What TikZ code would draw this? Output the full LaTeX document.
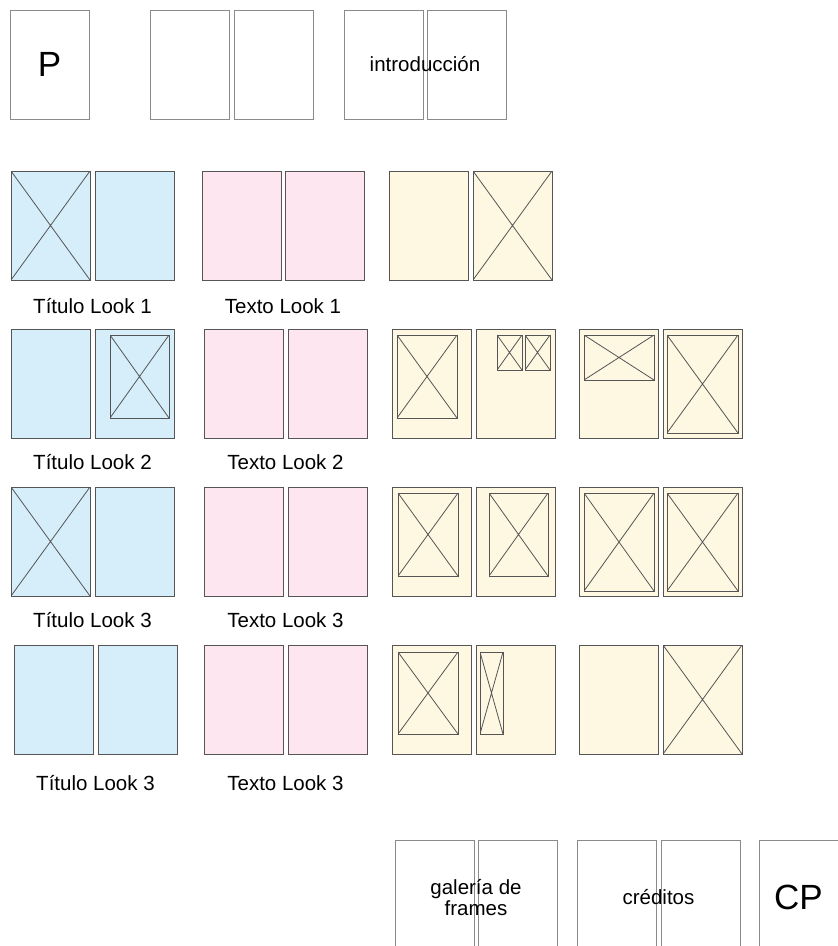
\documentclass[tikz,border=0pt]{standalone}
\usepackage{fontspec}
\setmainfont{Liberation Sans}
\definecolor{titblau}{HTML}{D5EEFA}
\definecolor{txtrosa}{HTML}{FDE6F0}
\definecolor{imggelb}{HTML}{FEF8E2}
\definecolor{randgrau}{HTML}{8A8A8A}
\definecolor{linie}{HTML}{555555}
\usetikzlibrary{positioning, calc}

\begin{document}
\begin{tikzpicture}[
    x=1pt, y=-1pt,
    node distance=5pt,
    page/.style={rectangle, draw=randgrau, line width=0.9pt,
                 minimum width=79pt, minimum height=109pt,
                 inner sep=0pt, outer sep=0pt, anchor=north west},
    tit/.style={page, draw=linie, fill=titblau},
    txt/.style={page, draw=linie, fill=txtrosa},
    img/.style={page, draw=linie, fill=imggelb},
    cross/.style={path picture={
        \draw[linie, line width=0.8pt]
          (path picture bounding box.north west) -- (path picture bounding box.south east)
          (path picture bounding box.south west) -- (path picture bounding box.north east);}},
    frame/.style={rectangle, draw=linie, line width=1pt,
                  inner sep=0pt, outer sep=0pt, cross},
    lbl/.style={font=\fontsize{20.5}{22}\selectfont},
    big/.style={font=\fontsize{35}{38}\selectfont}
  ]
  \useasboundingbox (0,0) rectangle (838,946);

  % Vorspann
  \node[page] (p)  at (10,10) {};
  \node[page] (v1) at (150,10) {};
  \node[page, right=of v1] (v2) {};
  \node[page] (i1) at (344,10) {};
  \node[page, right=4pt of i1] (i2) {};
  \node[big] at (p.center) {P};
  \node[lbl] at ($(i1.east)!.5!(i2.west)$) {introducción};

  % Look 1
  \node[tit, cross] (t1a) at (11,171) {};
  \node[tit, right=of t1a] (t1b) {};
  \node[txt] (x1a) at (202,171) {};
  \node[txt, right=4pt of x1a] (x1b) {};
  \node[img] (b1a) at (389,171) {};
  \node[img, cross, right=of b1a] (b1b) {};
  \node[lbl] (l1t) at ($(t1a.south east)!.5!(t1b.south west)+(0,26)$) {Título Look 1};
  \node[lbl] (l1x) at ($(x1a.south east)!.5!(x1b.south west)+(0,26)$) {Texto Look 1};

  % Look 2
  \node[tit] (t2a) at (11,329) {};
  \node[tit, right=of t2a] (t2b) {};
  \node[frame, minimum width=59pt, minimum height=83pt, anchor=north east]
    (f2t) at ([shift={(-5,6)}]t2b.north east) {};
  \node[txt] (x2a) at (204,329) {};
  \node[txt, right=of x2a] (x2b) {};
  \node[img] (b2a) at (392,329) {};
  \node[img, right=of b2a] (b2b) {};
  \node[img] (b2c) at (579,329) {};
  \node[img, right=of b2c] (b2d) {};
  \node[frame, minimum width=60pt, minimum height=83pt, anchor=north west]
    (f2a) at ([shift={(5,6)}]b2a.north west) {};
  \node[frame, minimum width=25pt, minimum height=35pt, anchor=north east]
    (f2b2) at ([shift={(-5,6)}]b2b.north east) {};
  \node[frame, minimum width=25pt, minimum height=35pt, anchor=north east,
    left=3pt of f2b2] (f2b1) {};
  \node[frame, minimum width=70pt, minimum height=45pt, anchor=north west]
    (f2c) at ([shift={(5,6)}]b2c.north west) {};
  \node[frame, minimum width=71pt, minimum height=98pt, anchor=north west]
    (f2d) at ([shift={(4,6)}]b2d.north west) {};
  \node[lbl] (l2t) at ($(t2a.south east)!.5!(t2b.south west)+(0,24)$) {Título Look 2};
  \node[lbl] (l2x) at ($(x2a.south east)!.5!(x2b.south west)+(0,24)$) {Texto Look 2};

  % Look 3
  \node[tit, cross] (t3a) at (11,487) {};
  \node[tit, right=of t3a] (t3b) {};
  \node[txt] (x3a) at (204,487) {};
  \node[txt, right=of x3a] (x3b) {};
  \node[img] (b3a) at (392,487) {};
  \node[img, right=of b3a] (b3b) {};
  \node[img] (b3c) at (579,487) {};
  \node[img, right=of b3c] (b3d) {};
  \node[frame, minimum width=60pt, minimum height=83pt, anchor=north west]
    (f3a) at ([shift={(6,6)}]b3a.north west) {};
  \node[frame, minimum width=59pt, minimum height=83pt, anchor=north east]
    (f3b) at ([shift={(-7,6)}]b3b.north east) {};
  \node[frame, minimum width=70pt, minimum height=98pt, anchor=north west]
    (f3c) at ([shift={(5,6)}]b3c.north west) {};
  \node[frame, minimum width=71pt, minimum height=98pt, anchor=north west]
    (f3d) at ([shift={(4,6)}]b3d.north west) {};
  \node[lbl] (l3t) at ($(t3a.south east)!.5!(t3b.south west)+(0,24)$) {Título Look 3};
  \node[lbl] (l3x) at ($(x3a.south east)!.5!(x3b.south west)+(0,24)$) {Texto Look 3};

  % Look 4
  \node[tit] (t4a) at (14,645) {};
  \node[tit, right=of t4a] (t4b) {};
  \node[txt] (x4a) at (204,645) {};
  \node[txt, right=of x4a] (x4b) {};
  \node[img] (b4a) at (392,645) {};
  \node[img, right=of b4a] (b4b) {};
  \node[img] (b4c) at (579,645) {};
  \node[img, cross, right=of b4c] (b4d) {};
  \node[frame, minimum width=60pt, minimum height=82pt, anchor=north west]
    (f4a) at ([shift={(6,7)}]b4a.north west) {};
  \node[frame, minimum width=23pt, minimum height=82pt, anchor=north west]
    (f4b) at ([shift={(4,7)}]b4b.north west) {};
  \node[lbl] (l4t) at ($(t4a.south east)!.5!(t4b.south west)+(0,29)$) {Título Look 3};
  \node[lbl] (l4x) at ($(x4a.south east)!.5!(x4b.south west)+(0,29)$) {Texto Look 3};

  % Nachspann
  \node[page] (g1) at (395,840) {};
  \node[page, right=4pt of g1] (g2) {};
  \node[page] (c1) at (577,840) {};
  \node[page, right=of c1] (c2) {};
  \node[page] (cp) at (759,840) {};
  \node[lbl, align=center, font=\fontsize{20.5}{16}\selectfont]
    at ($(g1.east)!.5!(g2.west)+(0,3)$) {galería de\\frames};
  \node[lbl] at ($(c1.east)!.5!(c2.west)+(0,3)$) {créditos};
  \node[big] at ([yshift=-3pt]cp.center) {CP};
\end{tikzpicture}
\end{document}
